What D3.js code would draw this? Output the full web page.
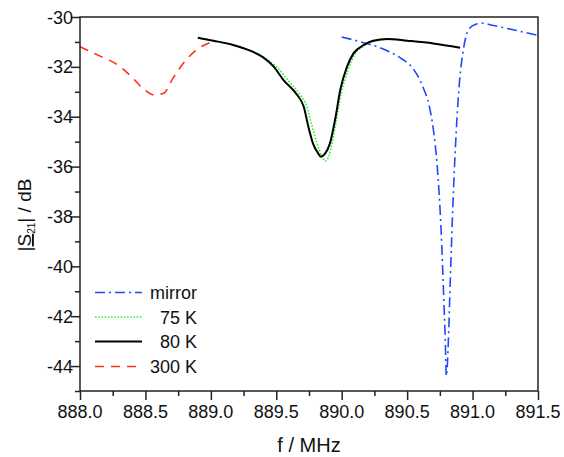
<!DOCTYPE html>
<html><head><meta charset="utf-8">
<script src="https://cdn.jsdelivr.net/npm/d3@7"></script>
<style>body{margin:0;background:#fff}svg{display:block}text{font-family:"Liberation Sans",Arial,sans-serif;fill:#111}</style>
</head><body>
<svg id="c" width="564" height="457"></svg>
<script>
const xTicks = [888.0, 888.5, 889.0, 889.5, 890.0, 890.5, 891.0, 891.5];
const yTicks = [-30, -32, -34, -36, -38, -40, -42, -44];
const seriesNames = ["mirror", "75 K", "80 K", "300 K"];

const mirrorF = [890.00,890.16,890.30,890.45,890.55,890.62,890.67,890.70,890.73,890.76,890.78,890.79,890.80,890.815,890.83,890.85,890.875,890.90,890.93,890.97,891.02,891.08,891.15,891.30,891.50];
const mirrorS = [-30.80,-31.02,-31.25,-31.65,-32.1,-32.8,-33.6,-34.5,-36.0,-38.6,-41.3,-42.7,-44.4,-43.0,-40.5,-37.5,-34.6,-32.6,-31.3,-30.5,-30.3,-30.25,-30.33,-30.5,-30.74];

const k75F = [889.10,889.25,889.38,889.50,889.60,889.68,889.73,889.77,889.81,889.85,889.875,889.90,889.93,889.96,890.00,890.05,890.10,890.17,890.25,890.35,890.50];
const k75S = [-31.05,-31.25,-31.55,-32.0,-32.6,-33.1,-33.55,-34.3,-35.05,-35.6,-35.78,-35.6,-35.0,-34.1,-33.0,-32.1,-31.5,-31.15,-30.97,-30.9,-30.95];

const k80F = [888.90,889.02,889.17,889.30,889.40,889.48,889.555,889.66,889.71,889.745,889.78,889.82,889.84,889.87,889.91,889.95,889.99,890.04,890.09,890.17,890.24,890.35,890.50,890.70,890.905];
const k80S = [-30.83,-30.95,-31.12,-31.35,-31.62,-31.99,-32.53,-33.13,-33.6,-34.4,-35.07,-35.47,-35.6,-35.5,-35.07,-34.1,-32.9,-32.0,-31.46,-31.12,-30.95,-30.88,-30.95,-31.06,-31.23];

const k300F = [888.00,888.15,888.29,888.395,888.48,888.57,888.64,888.71,888.80,888.89,889.01];
const k300S = [-31.19,-31.56,-31.93,-32.4,-32.86,-33.13,-33.06,-32.46,-31.79,-31.32,-30.99];

const svg = d3.select("#c");
const L = 80, R = 538, T = 17, B = 391;
const x = d3.scaleLinear().domain([888, 891.5]).range([L, R]);
const y = d3.scaleLinear().domain([-45, -30]).range([B, T]);

const styles = [
  {f: mirrorF, s: mirrorS, color: "#1f48ff", w: 1.6, dash: "10,4,2,4"},
  {f: k75F, s: k75S, color: "#2ef02e", w: 1.6, dash: "1.6,1.6"},
  {f: k80F, s: k80S, color: "#000", w: 2, dash: null},
  {f: k300F, s: k300S, color: "#ff3010", w: 1.6, dash: "9,7"}
];

const line = d3.line().x(d => x(d[0])).y(d => y(d[1])).curve(d3.curveMonotoneX);
const order = [3, 0, 1, 2];
order.forEach(i => {
  const st = styles[i];
  const pts = st.f.map((v, j) => [v, st.s[j]]);
  svg.append("path").attr("d", line(pts)).attr("fill", "none")
    .attr("stroke", st.color).attr("stroke-width", st.w)
    .attr("stroke-dasharray", st.dash);
});

// frame
svg.append("rect").attr("x", L).attr("y", T).attr("width", R - L).attr("height", B - T)
  .attr("fill", "none").attr("stroke", "#222").attr("stroke-width", 1.5);

// x axis
const xMinor = d3.range(888, 891.51, 0.25);
const xa = svg.append("g").attr("transform", `translate(0,${B})`);
xa.call(d3.axisBottom(x).tickValues(xMinor).tickSize(5).tickFormat(""));
xa.call(g => g.selectAll(".tick").filter(d => Math.abs(d * 2 - Math.round(d * 2)) < 1e-6).select("line").attr("y2", 9));
xa.selectAll(".domain").remove();
xa.selectAll("line").attr("stroke", "#222").attr("stroke-width", 1.5);
xTicks.forEach(t => {
  svg.append("text").attr("x", x(t)).attr("y", B + 27).attr("text-anchor", "middle")
    .attr("font-size", 18).text(t.toFixed(1));
});

// y axis
const yMinor = d3.range(-45, -29.9, 1);
const ya = svg.append("g").attr("transform", `translate(${L},0)`);
ya.call(d3.axisLeft(y).tickValues(yMinor).tickSize(5).tickFormat(""));
ya.call(g => g.selectAll(".tick").filter(d => Math.round(d) % 2 === 0).select("line").attr("x2", -9));
ya.selectAll(".domain").remove();
ya.selectAll("line").attr("stroke", "#222").attr("stroke-width", 1.5);
yTicks.forEach(t => {
  svg.append("text").attr("x", L - 7).attr("y", y(t) + 6.5).attr("text-anchor", "end")
    .attr("font-size", 18).text(t);
});

// axis titles
svg.append("text").attr("x", (L + R) / 2).attr("y", 452).attr("text-anchor", "middle")
  .attr("font-size", 20).text("f / MHz");
const yt = svg.append("text").attr("transform", `translate(31,215) rotate(-90)`)
  .attr("text-anchor", "middle").attr("font-size", 19);
yt.append("tspan").text("|");
yt.append("tspan").attr("text-decoration", "underline").text("S");
yt.append("tspan").attr("font-size", 10).attr("dy", 4).text("21");
yt.append("tspan").attr("dy", -4).text("| / dB");

// legend
const legY = [292.5, 317, 341.5, 366.5];
styles.forEach((st, i) => {
  svg.append("line").attr("x1", 95).attr("x2", 142).attr("y1", legY[i]).attr("y2", legY[i])
    .attr("stroke", st.color).attr("stroke-width", st.w).attr("stroke-dasharray", st.dash);
  svg.append("text").attr("x", 197).attr("y", legY[i] + 6.5).attr("text-anchor", "end")
    .attr("font-size", 18).text(seriesNames[i]);
});
</script>
</body></html>
